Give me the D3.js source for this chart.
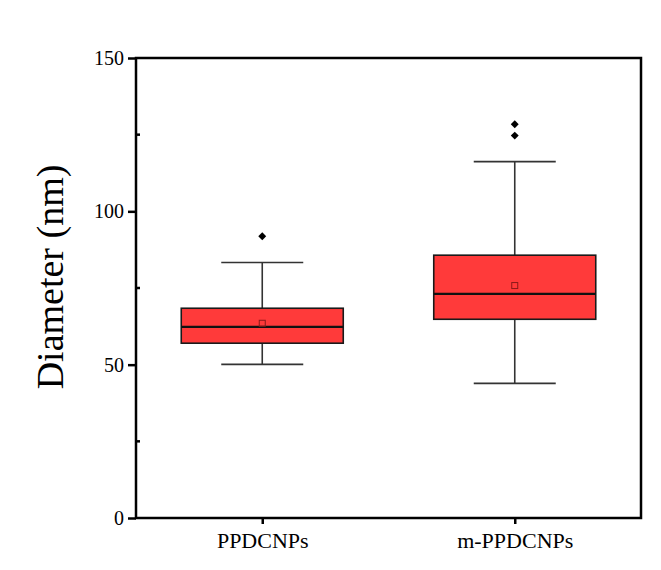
<!DOCTYPE html>
<html>
<head>
<meta charset="utf-8">
<script src="https://cdn.jsdelivr.net/npm/d3@7"></script>
<style>
body { margin: 0; background: #fff; }
svg { display: block; font-family: 'Liberation Serif', 'Times New Roman', serif; }
.box { fill: #ff3a3a; stroke: #1a1a1a; stroke-width: 1.6; }
.whisker { stroke: #333; stroke-width: 1.6; fill: none; }
.median { stroke: #111; stroke-width: 2.2; }
.mean { fill: none; stroke: #8b1a1a; stroke-width: 1; }
.outlier { fill: #000; }
</style>
</head>
<body>
<svg width="661" height="570"></svg>
<script>

// box statistics
var groups   = ['PPDCNPs', 'm-PPDCNPs'];
var lowWhisk = [50.1, 43.9];
var q1       = [57.0, 64.8];
var median   = [62.3, 73.1];
var q3       = [68.4, 85.7];
var highWhisk= [83.3, 116.2];
var mean     = [63.5, 75.8];
var outliers = [[91.9], [124.7, 128.4]];
var yTicks   = [0, 50, 100, 150];
var yMinor   = [25, 75, 125];

var svg = d3.select('svg');
// plot frame (note: "top" is taken by window.top)
var pLeft = 136, pRight = 641, pTop = 58, pBottom = 518;

var x = d3.scalePoint()
  .domain(groups)
  .range([pLeft, pRight])
  .padding(0.5);

var y = d3.scaleLinear()
  .domain([0, 150])
  .range([pBottom, pTop]);

var boxW = 162, capW = 82;

var rows = groups.map(function(g, i) {
  return {name: g, lo: lowWhisk[i], q1: q1[i], med: median[i], q3: q3[i],
          hi: highWhisk[i], mean: mean[i], out: outliers[i]};
});

var g = svg.selectAll('g.grp')
  .data(rows)
  .enter().append('g')
  .attr('class', 'grp')
  .attr('transform', function(d) { return 'translate(' + x(d.name) + ',0)'; });

// whisker stems
g.append('line').attr('class', 'whisker')
  .attr('x1', 0).attr('x2', 0)
  .attr('y1', function(d) { return y(d.hi); })
  .attr('y2', function(d) { return y(d.q3); });
g.append('line').attr('class', 'whisker')
  .attr('x1', 0).attr('x2', 0)
  .attr('y1', function(d) { return y(d.q1); })
  .attr('y2', function(d) { return y(d.lo); });

// caps
g.append('line').attr('class', 'whisker')
  .attr('x1', -capW / 2).attr('x2', capW / 2)
  .attr('y1', function(d) { return y(d.hi); })
  .attr('y2', function(d) { return y(d.hi); });
g.append('line').attr('class', 'whisker')
  .attr('x1', -capW / 2).attr('x2', capW / 2)
  .attr('y1', function(d) { return y(d.lo); })
  .attr('y2', function(d) { return y(d.lo); });

// box
g.append('rect').attr('class', 'box')
  .attr('x', -boxW / 2)
  .attr('width', boxW)
  .attr('y', function(d) { return y(d.q3); })
  .attr('height', function(d) { return y(d.q1) - y(d.q3); });

g.append('line').attr('class', 'median')
  .attr('x1', -boxW / 2).attr('x2', boxW / 2)
  .attr('y1', function(d) { return y(d.med); })
  .attr('y2', function(d) { return y(d.med); });

g.append('rect').attr('class', 'mean')
  .attr('x', -3).attr('width', 6).attr('height', 6)
  .attr('y', function(d) { return y(d.mean) - 3; });

g.selectAll('path.outlier')
  .data(function(d) { return d.out; })
  .enter().append('path')
  .attr('class', 'outlier')
  .attr('d', d3.symbol().type(d3.symbolDiamond2).size(40))
  .attr('transform', function(v) { return 'translate(0,' + y(v) + ')'; });

// frame
svg.append('rect')
  .attr('x', pLeft).attr('y', pTop)
  .attr('width', pRight - pLeft).attr('height', pBottom - pTop)
  .attr('fill', 'none').attr('stroke', '#000').attr('stroke-width', 2.5);

// y axis
var yAxis = svg.append('g')
  .attr('transform', 'translate(' + pLeft + ',0)')
  .call(d3.axisLeft(y).tickValues(yTicks).tickSize(8).tickPadding(4));
yAxis.select('.domain').remove();
yAxis.selectAll('.tick line').attr('stroke-width', 2.5);
yAxis.selectAll('.tick text').attr('font-size', 20).attr('font-family', 'Liberation Serif').attr('fill', '#000');

svg.append('g').selectAll('line')
  .data(yMinor)
  .enter().append('line')
  .attr('x1', pLeft).attr('x2', pLeft + 4)
  .attr('y1', function(v) { return y(v); })
  .attr('y2', function(v) { return y(v); })
  .attr('stroke', '#000').attr('stroke-width', 2.5);

// x axis
var xAxis = svg.append('g')
  .attr('transform', 'translate(0,' + pBottom + ')')
  .call(d3.axisBottom(x).tickSize(6).tickPadding(8));
xAxis.select('.domain').remove();
xAxis.selectAll('.tick line').attr('stroke-width', 2.5);
xAxis.selectAll('.tick text').attr('font-size', 22).attr('font-family', 'Liberation Serif').attr('fill', '#000');

svg.append('text')
  .attr('transform', 'translate(63,' + ((pTop + pBottom) / 2 - 11) + ') rotate(-90)')
  .attr('text-anchor', 'middle')
  .attr('font-size', 38)
  .text('Diameter (nm)');

</script>
</body>
</html>
